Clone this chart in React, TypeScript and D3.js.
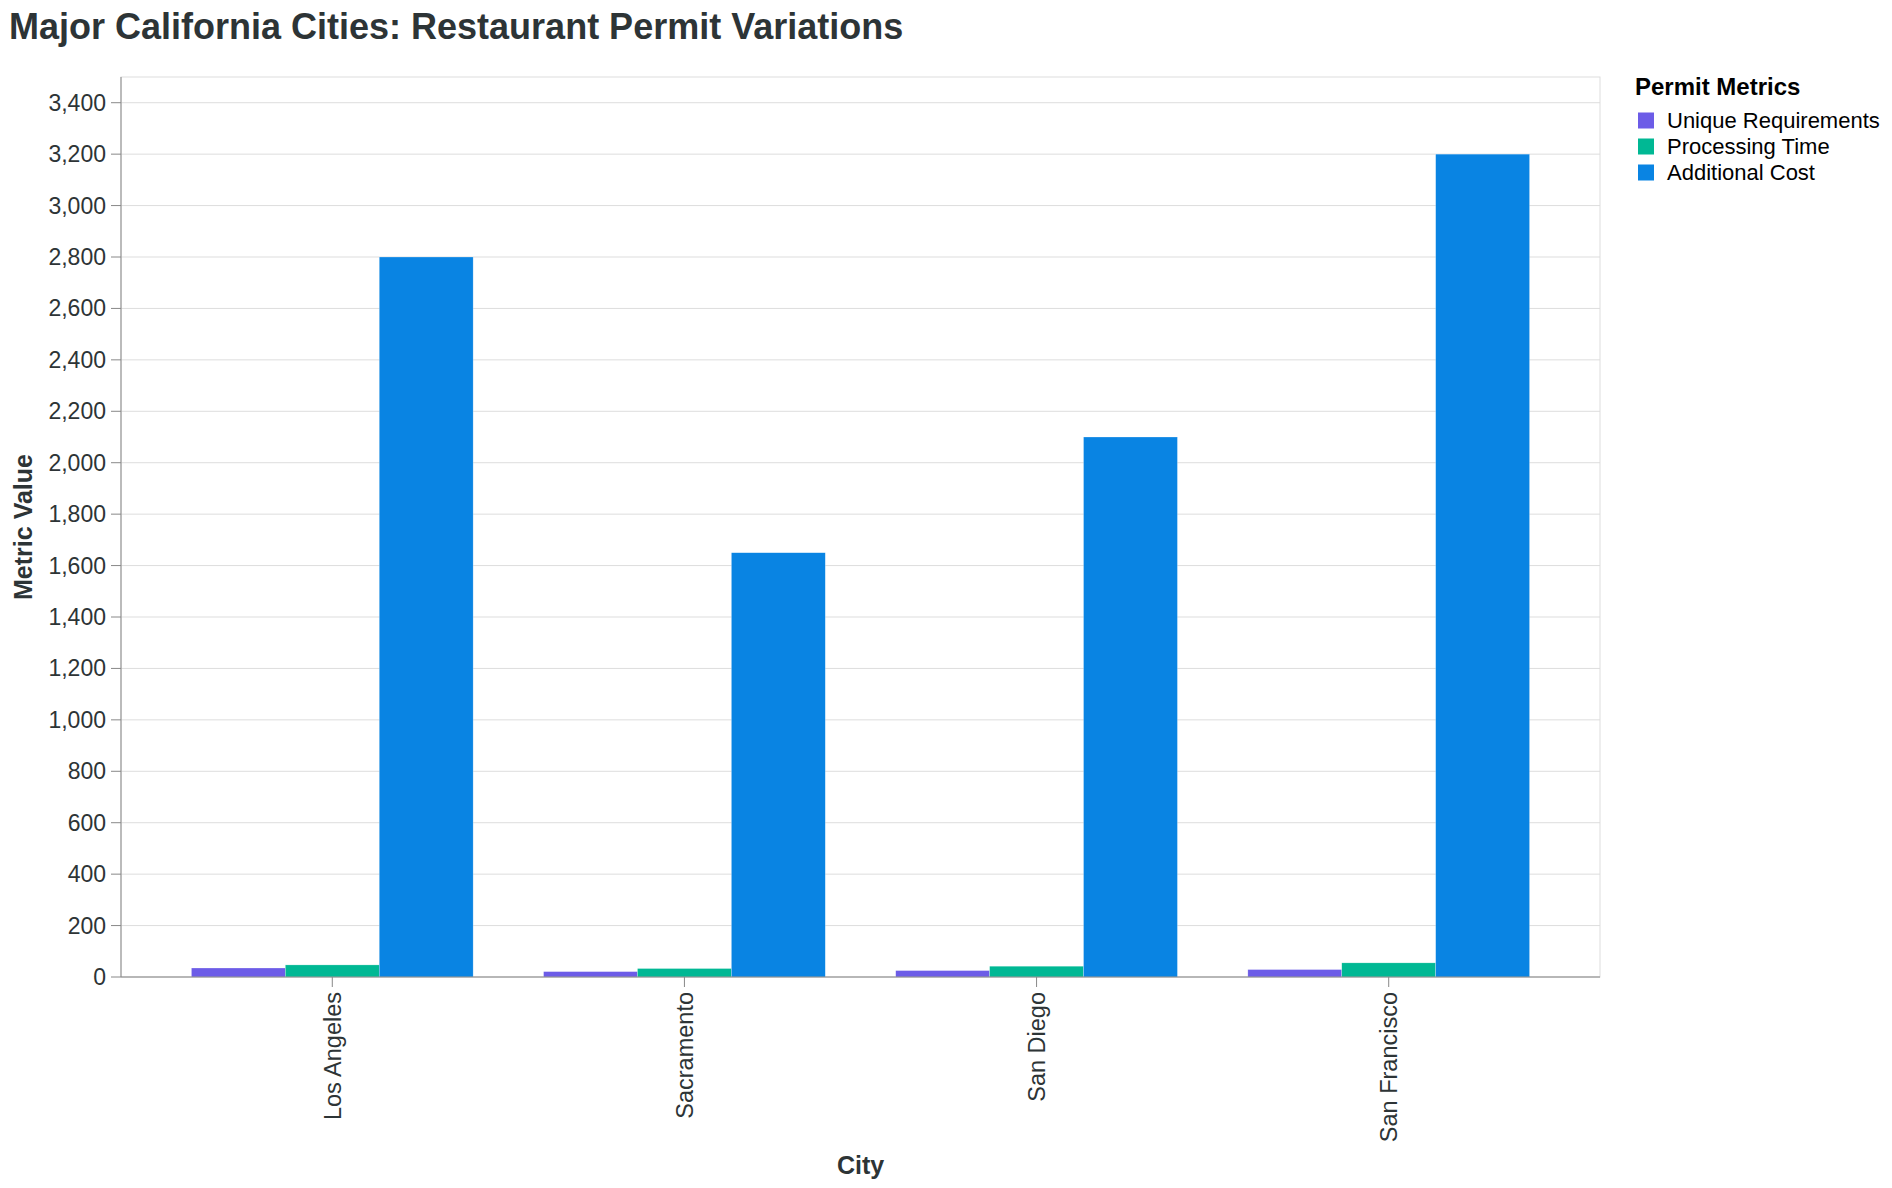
import React, { useEffect } from 'react'
import * as d3 from 'd3'

const width = 1892
const height = 1188

const cities = ['Los Angeles', 'Sacramento', 'San Diego', 'San Francisco']
const metrics = ['Unique Requirements', 'Processing Time', 'Additional Cost']
const uniqueRequirements = [35, 21, 25, 29]
const processingTime = [47, 33, 42, 55]
const additionalCost = [2800, 1650, 2100, 3200]
const metricColors = ['#6c5ce7', '#00b894', '#0984e3']

const font = '"Liberation Sans", Arial, Helvetica, sans-serif'
const ink = '#2d3436'

const plot = { left: 121, right: 1600, top: 77, bottom: 977 }

const App = () => {
  useEffect(() => {
    document.body.style.margin = '0'
    document.body.style.overflow = 'hidden'
  }, [])

  const x = d3
    .scaleBand()
    .domain(cities)
    .range([plot.left, plot.right])
    .paddingInner(0.2)
    .paddingOuter(0.2)
  const xInner = d3.scaleBand().domain(metrics).range([0, x.bandwidth()])
  const y = d3.scaleLinear().domain([0, 3500]).range([plot.bottom, plot.top])
  const color = d3.scaleOrdinal<string>().domain(metrics).range(metricColors)
  const yTicks = y.ticks(20)
  const fmt = d3.format(',')

  const series = [uniqueRequirements, processingTime, additionalCost]
  const bars = cities.flatMap((city, i) =>
    metrics.map((m, j) => ({
      key: city + m,
      x: (x(city) as number) + (xInner(m) as number),
      y: y(series[j][i]),
      h: y(0) - y(series[j][i]),
      fill: color(m),
    }))
  )

  return (
    <svg width={width} height={height} style={{ display: 'block', fontFamily: font }}>
      <rect width={width} height={height} fill="#fff" />
      <text x={9} y={39} fontSize={36} fontWeight="bold" fill={ink}>
        Major California Cities: Restaurant Permit Variations
      </text>

      {yTicks.map((t) => (
        <line key={'g' + t} x1={plot.left} x2={plot.right} y1={y(t)} y2={y(t)} stroke="#ddd" />
      ))}
      <rect
        x={plot.left}
        y={plot.top}
        width={plot.right - plot.left}
        height={plot.bottom - plot.top}
        fill="none"
        stroke="#ddd"
      />

      {bars.map((b) => (
        <rect
          key={b.key}
          x={b.x}
          y={b.y}
          width={xInner.bandwidth()}
          height={b.h}
          fill={b.fill}
          stroke="#fff"
          strokeOpacity={0.5}
          strokeWidth={0.5}
        />
      ))}

      {/* y axis */}
      <line x1={plot.left} x2={plot.left} y1={plot.top} y2={plot.bottom} stroke="#888" />
      {yTicks.map((t) => (
        <g key={'t' + t} transform={`translate(0,${y(t)})`}>
          <line x1={plot.left - 10} x2={plot.left} stroke="#888" />
          <text x={106} dy="0.35em" textAnchor="end" fontSize={23} fill={ink}>
            {fmt(t)}
          </text>
        </g>
      ))}
      <text
        transform={`translate(32,${(plot.top + plot.bottom) / 2}) rotate(-90)`}
        textAnchor="middle"
        fontSize={25}
        fontWeight="bold"
        fill={ink}
      >
        Metric Value
      </text>

      {/* x axis */}
      <line x1={plot.left} x2={plot.right} y1={plot.bottom} y2={plot.bottom} stroke="#888" />
      {cities.map((c) => {
        const cx = (x(c) as number) + x.bandwidth() / 2
        return (
          <g key={c}>
            <line x1={cx} x2={cx} y1={plot.bottom} y2={plot.bottom + 10} stroke="#888" />
            <text
              transform={`translate(${cx},${plot.bottom + 15}) rotate(-90)`}
              dy="0.35em"
              textAnchor="end"
              fontSize={23.5}
              fill={ink}
            >
              {c}
            </text>
          </g>
        )
      })}
      <text
        x={(plot.left + plot.right) / 2}
        y={1174}
        textAnchor="middle"
        fontSize={25}
        fontWeight="bold"
        fill={ink}
      >
        City
      </text>

      {/* legend */}
      <text x={1635} y={95} fontSize={24} fontWeight="bold" fill="#000">
        Permit Metrics
      </text>
      {metrics.map((m, i) => {
        const cy = 120.5 + i * 26
        return (
          <g key={m}>
            <rect x={1638} y={cy - 8} width={16} height={16} fill={color(m)} />
            <text x={1667} y={cy} dy="0.35em" fontSize={22} fill="#000">
              {m}
            </text>
          </g>
        )
      })}
    </svg>
  )
}

export default App
